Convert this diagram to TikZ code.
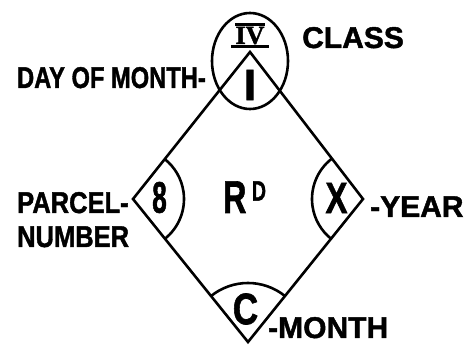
\documentclass[tikz,border=0pt]{standalone}
\usepackage{fontspec}
\setmainfont{Liberation Sans}[BoldFeatures={FakeBold=1.5}]
\newfontfamily\numfont{Liberation Serif}[BoldFeatures={FakeBold=1.5}]
\usetikzlibrary{positioning}

\newcommand\narrow[2][0.7]{\scalebox{#1}[1]{#2}}

\begin{document}
\begin{tikzpicture}[
  x=1pt, y=1pt,
  font=\bfseries\fontsize{30}{34}\selectfont,
  edge/.style={line width=2.6pt, line join=miter},
  bar/.style={line width=3pt},
  lbl/.style={inner sep=0pt},
  cell/.style={inner sep=0pt, font=\bfseries\fontsize{44}{44}\selectfont},
]
\useasboundingbox (0,0) rectangle (474,345);

% corners of the diamond
\coordinate (top) at (250,293);
\coordinate (lft) at (133,146);
\coordinate (rgt) at (363,146);
\coordinate (bot) at (248,3);

\draw[edge] (top) -- (rgt) -- (bot) -- (lft) -- cycle;

% the four corner cells
\draw[edge] (250,284) ellipse[x radius=38, y radius=48];
\draw[edge] ([shift={(-52:51)}]lft) arc[start angle=-52, end angle=52, radius=51];
\draw[edge] ([shift={(128:51)}]rgt) arc[start angle=128, end angle=232, radius=51];
\draw[edge] ([shift={(51:59)}]bot) arc[start angle=51, end angle=129, radius=59];

\node[lbl, font=\numfont\bfseries\fontsize{26}{26}\selectfont] (iv) at (250,309.5) {IV};
\draw[bar] ([yshift=2.5pt]iv.north west) -- ([yshift=2.5pt]iv.north east);
\draw[bar] ([xshift=-4pt,yshift=-2.5pt]iv.south west)
      -- ([xshift=4pt,yshift=-2.5pt]iv.south east);

\node[cell] (one) at (250,260) {I};
\node[cell] (eight) at (159.5,147.5) {\narrow[0.6]{8}};
\node[cell] (ex) at (336.5,147) {\narrow[0.75]{X}};
\node[cell] (cee) at (245.5,36) {\narrow[0.8]{C}};

\node[lbl, font=\bfseries\fontsize{46}{46}\selectfont, anchor=base west] (rr)
     at (223,132) {\narrow{R}};
\node[lbl, font=\bfseries\fontsize{28}{28}\selectfont, anchor=north west] (dd)
     at ([xshift=5pt]rr.north east) {\narrow{D}};

% labels
\node[lbl, anchor=base west] (cls) at (302,297) {CLASS};
\node[lbl, anchor=base east] (day) at (206,257) {\narrow[0.79]{DAY OF MONTH-}};
\node[lbl, anchor=base west] (parcel) at (17,132) {\narrow[0.85]{PARCEL-}};
\node[lbl, anchor=base west] (number) at (17,98) {\narrow[0.85]{NUMBER}};
\node[lbl, anchor=base west] (year) at (370,128) {-YEAR};
\node[lbl, anchor=base west] (month) at (268,7) {-MONTH};

\end{tikzpicture}
\end{document}
